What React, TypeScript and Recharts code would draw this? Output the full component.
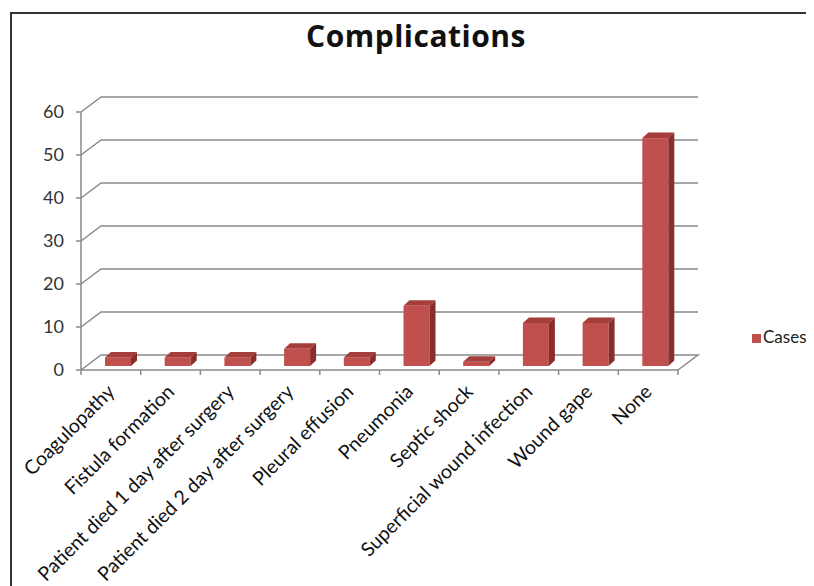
import React from 'react';
import { BarChart, Bar, XAxis, YAxis, CartesianGrid, Legend } from 'recharts';

const categories = [
  'Coagulopathy',
  'Fistula formation',
  'Patient died 1 day after surgery',
  'Patient died 2 day after surgery',
  'Pleural effusion',
  'Pneumonia',
  'Septic shock',
  'Superficial wound infection',
  'Wound gape',
  'None',
];
const cases = [2, 2, 2, 4, 2, 14, 1, 10, 10, 53];
const yTicks = [0, 10, 20, 30, 40, 50, 60];
const chartTitle = 'Complications';
const seriesName = 'Cases';

const data = categories.map((c, i) => ({ name: c, [seriesName]: cases[i] }));

const WALL_DX = 20;
const WALL_DY = -15;
const SHIFT_X = 7;
const SHIFT_Y = -4;
const BAR_DX = 6;
const BAR_DY = -5.5;
const GRID = '#8a8a8a';
const FONT = 'Lato, "Open Sans", sans-serif';

const Bar3D = (props: any) => {
  const { x, y, width, height } = props;
  if (x == null || y == null) return null;
  const fx = x + SHIFT_X;
  const fy = y + SHIFT_Y;
  const w = width;
  const h = height;
  return (
    <g>
      <rect x={fx} y={fy} width={w} height={h} fill="#C0504D" />
      <polygon
        points={`${fx},${fy} ${fx + BAR_DX},${fy + BAR_DY} ${fx + w + BAR_DX},${fy + BAR_DY} ${fx + w},${fy}`}
        fill="#A53E3B"
      />
      <polygon
        points={`${fx + w},${fy} ${fx + w + BAR_DX},${fy + BAR_DY} ${fx + w + BAR_DX},${fy + h + BAR_DY} ${fx + w},${fy + h}`}
        fill="#8B2D2B"
      />
    </g>
  );
};

const gridLine = (p: any) => {
  const { x1, y1, x2 } = p;
  const isFloor = p.y != null && p.height != null && Math.abs(y1 - (p.y + p.height)) < 1;
  let d = `M${x1},${y1} L${x1 + WALL_DX},${y1 + WALL_DY} L${x2 + WALL_DX},${y1 + WALL_DY}`;
  if (isFloor) d += ` L${x2},${y1}`;
  return <path key={`grid-${p.index}`} d={d} fill="none" stroke={GRID} strokeWidth={1.5} />;
};

const XTick = (props: any) => {
  const { x, y, payload, index } = props;
  const off = payload && payload.offset != null ? payload.offset : 0;
  return (
    <g>
      <line x1={x - off} y1={y} x2={x - off} y2={y + 5} stroke={GRID} strokeWidth={1.5} />
      {index === categories.length - 1 && (
        <line x1={x + off} y1={y} x2={x + off} y2={y + 5} stroke={GRID} strokeWidth={1.5} />
      )}
      <text
        transform={`translate(${x + 5},${y + 23}) rotate(-45)`}
        textAnchor="end"
        fontSize={19.5}
        fontFamily={FONT}
        fill="#111"
      >
        {payload.value}
      </text>
    </g>
  );
};

export default function App() {
  return (
    <div style={{ position: 'relative', width: 806, height: 578, overflow: 'hidden', background: '#fff' }}>
      <div
        style={{
          position: 'absolute',
          left: 2,
          top: 4,
          width: 900,
          height: 700,
          borderLeft: '2px solid #333',
          borderTop: '2px solid #333',
        }}
      />
      <div
        style={{
          position: 'absolute',
          left: 0,
          width: 816,
          top: 7,
          textAlign: 'center',
          fontFamily: '"Open Sans", Lato, sans-serif',
          fontWeight: 700,
          fontSize: 30,
          letterSpacing: 0.5,
          color: '#111',
        }}
      >
        {chartTitle}
      </div>
      <div style={{ position: 'absolute', left: 0, top: 0 }}>
        <BarChart
          width={806}
          height={578}
          data={data}
          margin={{ top: 104, right: 136, bottom: 66, left: 33 }}
        >
          <CartesianGrid vertical={false} horizontal={gridLine} />
          <XAxis
            dataKey="name"
            interval={0}
            height={150}
            tickSize={0}
            tickMargin={0}
            tickLine={false}
            axisLine={{ stroke: GRID, strokeWidth: 1.5 }}
            tick={<XTick />}
          />
          <YAxis
            domain={[0, 60]}
            ticks={yTicks}
            width={40}
            tickSize={5}
            tickMargin={12}
            axisLine={{ stroke: GRID, strokeWidth: 1.5 }}
            tickLine={{ stroke: GRID, strokeWidth: 1.5 }}
            tick={{ fontSize: 18, fontFamily: FONT, fill: '#333' }}
          />
          <Legend
            layout="vertical"
            align="center"
            verticalAlign="middle"
            iconType="square"
            iconSize={9}
            formatter={(v: any) => (
              <span style={{ color: '#222', marginLeft: -2, whiteSpace: 'nowrap' }}>{v}</span>
            )}
            wrapperStyle={{ left: 744, top: 318, width: 70, whiteSpace: 'nowrap', fontFamily: FONT, fontSize: 17 }}
          />
          <Bar dataKey={seriesName} barSize={26} fill="#C0504D" shape={<Bar3D />} isAnimationActive={false} />
        </BarChart>
      </div>
    </div>
  );
}
